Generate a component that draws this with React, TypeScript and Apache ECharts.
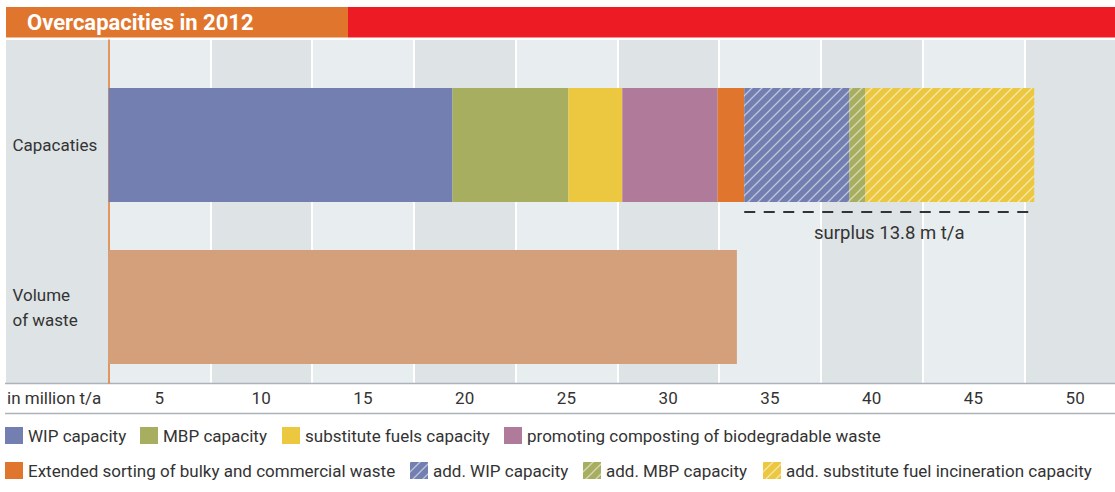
import React, { useEffect, useRef } from 'react';
import * as echarts from 'echarts';

const categories = ['Capacaties', 'Volume\nof waste'];
const tickLabels = ['5', '10', '15', '20', '25', '30', '35', '40', '45', '50'];
const capacityNames = [
  'WIP capacity',
  'MBP capacity',
  'substitute fuels capacity',
  'promoting composting of biodegradable waste',
  'Extended sorting of bulky and commercial waste',
  'add. WIP capacity',
  'add. MBP capacity',
  'add. substitute fuel incineration capacity',
];
const capacityValues = [16.9, 5.7, 2.65, 4.68, 1.31, 5.16, 0.79, 8.3];
const isAdditional = [false, false, false, false, false, true, true, true];
const wasteVolumeName = 'Volume of waste';
const wasteVolume = 30.88;
const titleText = 'Overcapacities in 2012';
const unitLabel = 'in million t/a';
const surplusLabel = 'surplus 13.8 m t/a';

const capacityColors = ['#737fb0', '#a8ae60', '#ecc840', '#b07a9b', '#e0762e', '#737fb0', '#a8ae60', '#ecc840'];
const legendPos = [
  [5, 427], [140, 427], [282, 427], [504, 427],
  [5, 462], [410, 462], [583, 462], [763, 462],
];
const FONT = 'Roboto, "Open Sans", sans-serif';
const TEXT = '#333333';

function hatchPattern(base: string): any {
  const s = 10;
  const c = document.createElement('canvas');
  c.width = s;
  c.height = s;
  const ctx = c.getContext('2d')!;
  ctx.fillStyle = base;
  ctx.fillRect(0, 0, s, s);
  ctx.strokeStyle = 'rgba(255,255,255,0.55)';
  ctx.lineWidth = 1.3;
  ctx.beginPath();
  ctx.moveTo(-1, s + 1);
  ctx.lineTo(s + 1, -1);
  ctx.moveTo(-2, 2);
  ctx.lineTo(2, -2);
  ctx.moveTo(s - 2, s + 2);
  ctx.lineTo(s + 2, s - 2);
  ctx.stroke();
  return { image: c, repeat: 'repeat' };
}

export default function App() {
  const ref = useRef<HTMLDivElement>(null);
  useEffect(() => {
    if (!ref.current) return;
    const chart = echarts.init(ref.current, null, { renderer: 'svg' });
    const series: any[] = capacityNames.map((name, i) => ({
      name,
      type: 'bar',
      stack: 'total',
      xAxisIndex: 1,
      yAxisIndex: 1,
      barWidth: 114,
      data: [capacityValues[i], '-'],
      itemStyle: {
        color: isAdditional[i] ? hatchPattern(capacityColors[i]) : capacityColors[i],
      },
    }));
    series.push({
      name: wasteVolumeName,
      type: 'bar',
      stack: 'total',
      xAxisIndex: 1,
      yAxisIndex: 1,
      barWidth: 114,
      data: ['-', wasteVolume],
      itemStyle: { color: '#d4a07c' },
    });

    const option: any = {
      animation: false,
      textStyle: { fontFamily: FONT },
      grid: [
        { left: 108.5, width: 1017.5, top: 40, bottom: 109, outerBoundsMode: 'none', containLabel: false },
        { left: 108.5, width: 1017.5, top: 64, bottom: 104, outerBoundsMode: 'none', containLabel: false },
      ],
      xAxis: [
        {
          type: 'value', gridIndex: 0, min: 0, max: 50, interval: 5,
          axisLine: { show: false }, axisTick: { show: false }, axisLabel: { show: false },
          splitLine: { show: true, showMinLine: false, lineStyle: { color: '#ffffff', width: 2 } },
          splitArea: { show: true, areaStyle: { color: ['#e8edef', '#dee3e6'] } },
        },
        {
          type: 'value', gridIndex: 1, min: 0, max: 50, show: false,
        },
        {
          type: 'category', gridIndex: 0, position: 'bottom', data: tickLabels, boundaryGap: true,
          axisLine: { show: false }, axisTick: { show: false }, splitLine: { show: false },
          axisLabel: { margin: 6, fontSize: 17, color: TEXT, fontFamily: FONT },
        },
      ],
      yAxis: [
        {
          type: 'value', gridIndex: 0, min: 0, max: 1,
          axisLabel: { show: false }, splitLine: { show: false }, axisTick: { show: false },
          axisLine: { show: true, lineStyle: { color: '#e0762e', width: 1.5 } },
        },
        {
          type: 'category', gridIndex: 1, inverse: true, data: categories,
          axisLine: { show: false }, axisTick: { show: false },
          axisLabel: {
            align: 'left', margin: 96, fontSize: 17, lineHeight: 25, color: TEXT, fontFamily: FONT,
            padding: [0, 0, 5, 0],
          },
        },
      ],
      legend: capacityNames.map((name, i) => ({
        data: [name],
        left: legendPos[i][0],
        top: legendPos[i][1],
        padding: 0,
        icon: 'rect',
        itemWidth: 18,
        itemHeight: 17,
        selectedMode: false,
        textStyle: { fontSize: 17, color: TEXT, fontFamily: FONT },
      })),
      series,
    };
    chart.setOption(option);

    const total = capacityValues.reduce((a, b) => a + b, 0);
    const existing = capacityValues.filter((_, i) => !isAdditional[i]).reduce((a, b) => a + b, 0);
    const p1 = chart.convertToPixel({ gridIndex: 1 } as any, [existing, 0]) as number[];
    const p2 = chart.convertToPixel({ gridIndex: 1 } as any, [total, 0]) as number[];
    const lineY = p1[1] + 57 + 10;

    chart.setOption({
      graphic: [
        { type: 'rect', z: -10, shape: { x: 6, y: 40, width: 102, height: 343 }, style: { fill: '#dee3e6' } },
        { type: 'rect', shape: { x: 6, y: 7, width: 342, height: 30.5 }, style: { fill: '#e0762e' } },
        { type: 'rect', shape: { x: 348, y: 7, width: 767, height: 30.5 }, style: { fill: '#ed1c24' } },
        {
          type: 'text', x: 27, y: 22.5,
          style: { text: titleText, fill: '#ffffff', font: `bold 22px ${FONT}`, verticalAlign: 'middle' },
        },
        { type: 'line', shape: { x1: 5, y1: 383.5, x2: 1115, y2: 383.5 }, style: { stroke: '#aab3ba', lineWidth: 1.5 } },
        { type: 'line', shape: { x1: 5, y1: 413.5, x2: 1115, y2: 413.5 }, style: { stroke: '#aab3ba', lineWidth: 1.5 } },
        {
          type: 'text', x: 7, y: 398,
          style: { text: unitLabel, fill: TEXT, font: `17px ${FONT}`, verticalAlign: 'middle' },
        },
        {
          type: 'line', shape: { x1: p1[0], y1: lineY, x2: p2[0], y2: lineY },
          style: { stroke: '#333333', lineWidth: 1.8, lineDash: [11, 8.5] },
        },
        {
          type: 'text', x: (p1[0] + p2[0]) / 2, y: lineY + 21,
          style: { text: surplusLabel, fill: TEXT, font: `18.5px ${FONT}`, align: 'center', verticalAlign: 'middle' },
        },
      ],
    });

    return () => chart.dispose();
  }, []);
  return <div ref={ref} style={{ position: 'absolute', left: 0, top: 0, width: 1115, height: 492 }} />;
}
